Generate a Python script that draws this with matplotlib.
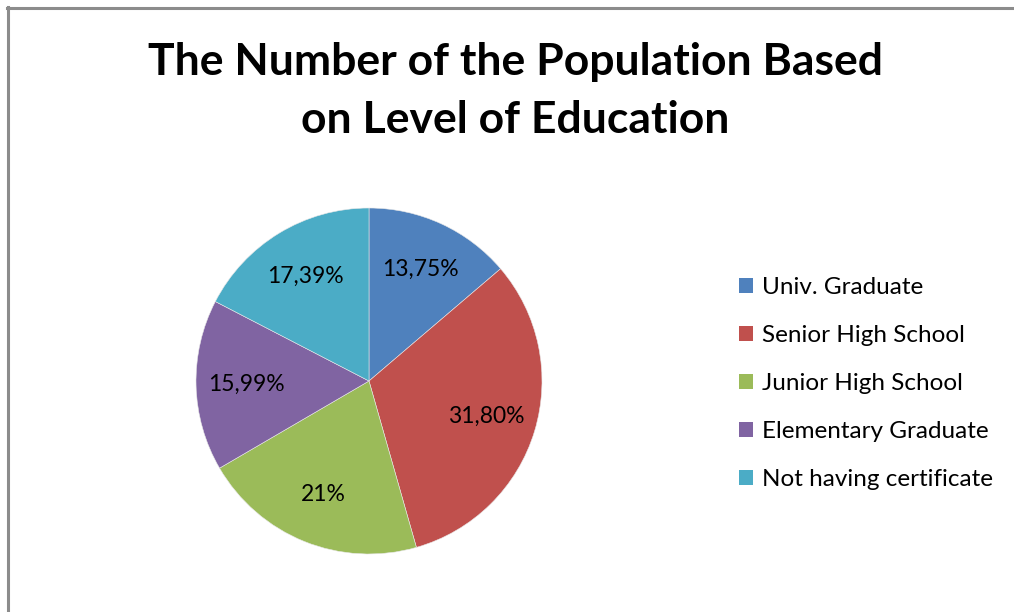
import numpy as np
import matplotlib
matplotlib.use("Agg")
import matplotlib.pyplot as plt
from matplotlib.lines import Line2D
from matplotlib.patches import Patch

categories = ["Univ. Graduate", "Senior High School", "Junior High School",
              "Elementary Graduate", "Not having certificate"]
values = [13.75, 31.80, 21.0, 15.99, 17.39]
value_labels = ["13,75%", "31,80%", "21%", "15,99%", "17,39%"]
colors = ["#4F81BD", "#C0504D", "#9BBB59", "#8064A2", "#4BACC6"]
title_text = "The Number of the Population Based\non Level of Education"

W, H = 1014, 612
fig = plt.figure(figsize=(W / 100, H / 100), dpi=100)
fig.patch.set_facecolor("white")

FONT = "Lato"

# frame lines (top and left only visible)
fig.add_artist(Line2D([7 / W, 1013 / W], [1 - 7.5 / H, 1 - 7.5 / H],
                      color="#8c8c8c", lw=2.2, transform=fig.transFigure))
fig.add_artist(Line2D([7.5 / W, 7.5 / W], [1 - 7 / H, 0],
                      color="#8c8c8c", lw=2.2, transform=fig.transFigure))

cx, cy, R = 369, 381, 173
ax = fig.add_axes([(cx - R) / W, (H - cy - R) / H, 2 * R / W, 2 * R / H])
wedges, _ = ax.pie(values, colors=colors, startangle=90, counterclock=False,
                   radius=1.0, wedgeprops=dict(edgecolor="#e8e8e8", linewidth=0.4))
ax.set_xlim(-1, 1)
ax.set_ylim(-1, 1)
ax.set_aspect("equal")
ax.axis("off")

for w, lab in zip(wedges, value_labels):
    ang = np.deg2rad((w.theta1 + w.theta2) / 2)
    r = 0.71
    ax.text(r * np.cos(ang), r * np.sin(ang), lab, ha="center", va="center",
            fontsize=16.5, family=FONT, color="black")

fig.text(515 / W, 1 - 91 / H, title_text, ha="center", va="center",
         fontsize=32, fontweight="bold", family=FONT, linespacing=1.55)

handles = [Patch(facecolor=c, edgecolor="none") for c in colors]
leg = fig.legend(handles, categories, loc="upper left",
                 bbox_to_anchor=(739 / W, 1 - 277 / H),
                 frameon=False, prop=dict(family=FONT, size=17.5),
                 handlelength=0.58, handleheight=0.58, handletextpad=0.37,
                 labelspacing=1.11, borderaxespad=0, borderpad=0)

fig.savefig("out.png", dpi=100)
